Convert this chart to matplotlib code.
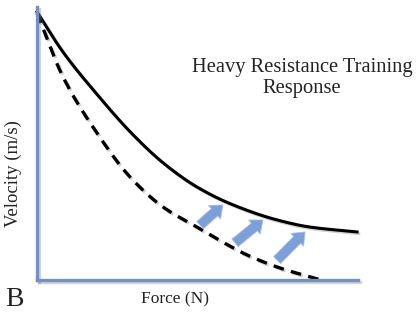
import matplotlib
matplotlib.use("Agg")
import matplotlib.pyplot as plt
import matplotlib.patheffects as pe
import numpy as np

# Force (arbitrary %) vs velocity (arbitrary %)
force_post = [0, 8.1, 18.7, 29.0, 39.3, 49.8, 60.1, 74.8, 85.0, 99.7]
vel_post = [98.2, 83.5, 68.0, 54.3, 42.9, 34.1, 28.0, 22.0, 19.4, 17.6]

force_pre = [0, 8.1, 18.7, 29.0, 39.3, 49.8, 59.2, 65.4, 75.7, 88.5]
vel_pre = [97.8, 74.4, 53.8, 37.7, 26.7, 19.4, 13.0, 9.2, 4.4, 0.0]

arrow_tails = [(50.8, 20.1), (61.7, 13.6), (74.8, 7.3)]
arrow_tips = [(57.9, 27.5), (70.4, 22.0), (83.5, 17.6)]

title = "Heavy Resistance Training\nResponse"
xlabel = "Force (N)"
ylabel = "Velocity (m/s)"
panel = "B"

serif = ["Liberation Serif", "DejaVu Serif"]
axis_col = "#7591c4"
arrow_col = "#7c9fd8"
text_col = "#222222"


def pchip(x, y, n=300):
    """Monotone cubic (Fritsch-Carlson) interpolation for smooth drawing."""
    x = np.asarray(x, float)
    y = np.asarray(y, float)
    h = np.diff(x)
    d = np.diff(y) / h
    m = np.zeros_like(y)
    m[0], m[-1] = d[0], d[-1]
    for i in range(1, len(x) - 1):
        if d[i - 1] * d[i] <= 0:
            m[i] = 0
        else:
            w1 = 2 * h[i] + h[i - 1]
            w2 = h[i] + 2 * h[i - 1]
            m[i] = (w1 + w2) / (w1 / d[i - 1] + w2 / d[i])
    xs = np.linspace(x[0], x[-1], n)
    idx = np.clip(np.searchsorted(x, xs) - 1, 0, len(x) - 2)
    t = (xs - x[idx]) / h[idx]
    h00 = 2 * t**3 - 3 * t**2 + 1
    h10 = t**3 - 2 * t**2 + t
    h01 = -2 * t**3 + 3 * t**2
    h11 = t**3 - t**2
    ys = h00 * y[idx] + h10 * h[idx] * m[idx] + h01 * y[idx + 1] + h11 * h[idx] * m[idx + 1]
    return xs, ys


fig = plt.figure(figsize=(4.2, 3.24), dpi=100)
W, H = 420, 324
ax = fig.add_axes([37 / W, (H - 280) / H, (358 - 37) / W, (280 - 7) / H])
ax.set_xlim(0, 100)
ax.set_ylim(0, 100)
for s in ["top", "right"]:
    ax.spines[s].set_visible(False)
shadow = [pe.SimpleLineShadow(offset=(1.2, -1.2), shadow_color="gray", alpha=0.35), pe.Normal()]
for s in ["left", "bottom"]:
    ax.spines[s].set_color(axis_col)
    ax.spines[s].set_linewidth(2.4)
    ax.spines[s].set_path_effects(shadow)
ax.set_xticks([])
ax.set_yticks([])

xp, yp = pchip(force_post, vel_post)
ax.plot(xp, yp, color="black", lw=2.2, clip_on=False, path_effects=shadow)
xq, yq = pchip(force_pre, vel_pre)
ax.plot(xq, yq, color="black", lw=2.4, ls=(0, (3.2, 2.2)), clip_on=False,
        path_effects=shadow)

for (tx, ty), (hx, hy) in zip(arrow_tails, arrow_tips):
    ax.annotate("", xy=(hx, hy), xytext=(tx, ty),
                arrowprops=dict(arrowstyle="simple,head_length=0.8,head_width=1.3,tail_width=0.7",
                                mutation_scale=10, fc=arrow_col, ec="#a9bfe6", lw=0.6,
                                shrinkA=0, shrinkB=0))

fig.text(302 / W, 1 - 78 / H, title, ha="center", va="center", fontsize=14.8,
         family=serif, color=text_col, linespacing=1.15)
fig.text(175 / W, 1 - 299 / H, xlabel, ha="center", va="center", fontsize=12.5,
         family=serif, color=text_col)
fig.text(13 / W, 1 - 174 / H, ylabel, ha="center", va="center", fontsize=13.5,
         family=serif, color=text_col, rotation=90)
fig.text(14 / W, 1 - 299 / H, panel, ha="center", va="center", fontsize=20,
         family=serif, color=text_col)

fig.savefig("out.png", dpi=100)
